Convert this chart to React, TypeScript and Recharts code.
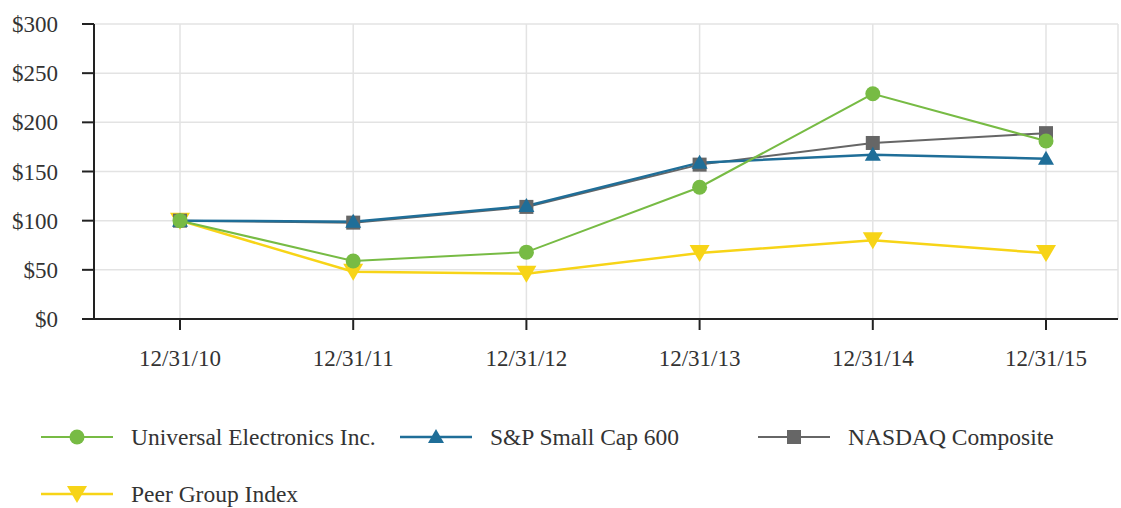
import React from "react";
import {
  LineChart,
  Line,
  XAxis,
  YAxis,
  CartesianGrid,
  Legend,
} from "recharts";

const dates = ["12/31/10", "12/31/11", "12/31/12", "12/31/13", "12/31/14", "12/31/15"];
const universal = [100, 59, 68, 134, 229, 181];
const spSmallCap = [100, 99, 115, 159, 167, 163];
const nasdaq = [100, 98, 114, 157, 179, 189];
const peerGroup = [100, 48, 46, 67, 80, 67];
const yTicks = [0, 50, 100, 150, 200, 250, 300];

const data = dates.map((d, i) => ({
  date: d,
  universal: universal[i],
  sp: spSmallCap[i],
  nasdaq: nasdaq[i],
  peer: peerGroup[i],
}));

const GREEN = "#77bb44";
const BLUE = "#1f6e98";
const GRAY = "#666666";
const YELLOW = "#f7d417";
const FONT = "Liberation Serif, Times New Roman, serif";

type Shape = "circle" | "triangle" | "square" | "down";

function Marker({ cx, cy, shape, color }: { cx: number; cy: number; shape: Shape; color: string }) {
  if (cx == null || cy == null) return null;
  if (shape === "circle") return <circle cx={cx} cy={cy} r={7.5} fill={color} />;
  if (shape === "square")
    return <rect x={cx - 7} y={cy - 7} width={14} height={14} fill={color} />;
  if (shape === "triangle")
    return (
      <polygon
        points={`${cx},${cy - 8} ${cx + 8},${cy + 6} ${cx - 8},${cy + 6}`}
        fill={color}
      />
    );
  return (
    <polygon
      points={`${cx - 10},${cy - 8} ${cx + 10},${cy - 8} ${cx},${cy + 9}`}
      fill={color}
    />
  );
}

const dot = (shape: Shape, color: string) => (props: any) => (
  <Marker key={`${shape}-${props.index}`} cx={props.cx} cy={props.cy} shape={shape} color={color} />
);

// legend layout: x = start of the line sample, y = row centre
const legendItems: { name: string; color: string; shape: Shape; x: number; y: number; w: number }[] = [
  { name: "Universal Electronics Inc.", color: GREEN, shape: "circle", x: 41, y: 27, w: 2 },
  { name: "S&P Small Cap 600", color: BLUE, shape: "triangle", x: 400, y: 27, w: 2.5 },
  { name: "NASDAQ Composite", color: GRAY, shape: "square", x: 758, y: 27, w: 2 },
  { name: "Peer Group Index", color: YELLOW, shape: "down", x: 41, y: 84, w: 2.5 },
];

function LegendContent() {
  return (
    <svg width={1121} height={98} style={{ display: "block" }}>
      {legendItems.map((it) => (
        <g key={it.name}>
          <line
            x1={it.x}
            x2={it.x + 72}
            y1={it.y}
            y2={it.y}
            stroke={it.color}
            strokeWidth={it.w}
          />
          <Marker cx={it.x + 36} cy={it.y} shape={it.shape} color={it.color} />
          <text
            x={it.x + 90}
            y={it.y}
            dy="0.35em"
            fontFamily={FONT}
            fontSize={23.5}
            fill="#333"
          >
            {it.name}
          </text>
        </g>
      ))}
    </svg>
  );
}

export default function App() {
  return (
    <div style={{ width: 1121, height: 508, background: "#fff" }}>
      <style>{`body{margin:0}`}</style>
      <LineChart
        width={1121}
        height={508}
        data={data}
        margin={{ top: 24, right: 3, left: 0, bottom: 0 }}
      >
        <CartesianGrid stroke="#e3e3e3" strokeWidth={1.5} />
        <XAxis
          dataKey="date"
          padding={{ left: 86, right: 72 }}
          height={91}
          stroke="#222"
          strokeWidth={2}
          tickSize={11}
          tickMargin={20}
          tick={{ fontFamily: FONT, fontSize: 23, fill: "#333" }}
        />
        <YAxis
          width={94}
          domain={[0, 300]}
          ticks={yTicks}
          stroke="#222"
          strokeWidth={2}
          tickSize={12}
          tickMargin={24}
          tickFormatter={(v: number) => `$${v}`}
          tick={{ fontFamily: FONT, fontSize: 23, fill: "#333" }}
        />
        <Legend
          height={98}
          content={() => <LegendContent />}
          wrapperStyle={{ top: 410, left: 0, width: 1121 }}
        />
        <Line
          dataKey="peer"
          name="Peer Group Index"
          stroke={YELLOW}
          strokeWidth={2.5}
          dot={dot("down", YELLOW)}
          isAnimationActive={false}
        />
        <Line
          dataKey="nasdaq"
          name="NASDAQ Composite"
          stroke={GRAY}
          strokeWidth={2}
          dot={dot("square", GRAY)}
          isAnimationActive={false}
        />
        <Line
          dataKey="sp"
          name="S&P Small Cap 600"
          stroke={BLUE}
          strokeWidth={2.5}
          dot={dot("triangle", BLUE)}
          isAnimationActive={false}
        />
        <Line
          dataKey="universal"
          name="Universal Electronics Inc."
          stroke={GREEN}
          strokeWidth={2}
          dot={dot("circle", GREEN)}
          isAnimationActive={false}
        />
      </LineChart>
    </div>
  );
}
